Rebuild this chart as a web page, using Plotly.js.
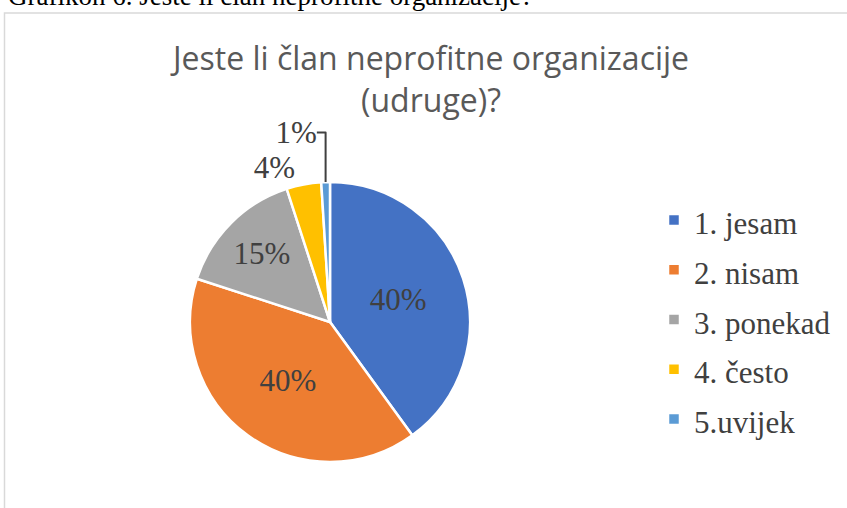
<!DOCTYPE html>
<html>
<head>
<meta charset="utf-8">
<script src="https://cdn.plot.ly/plotly-3.0.1.min.js"></script>
<style>html,body{margin:0;padding:0;background:#fff;}#chart{width:847px;height:508px;}</style>
</head>
<body>
<div id="chart"></div>
<script>
const categories = ["1. jesam", "2. nisam", "3. ponekad", "4. često", "5.uvijek"];
const shares = [40, 40, 15, 4, 1];
const colors = ["#4472C4", "#ED7D31", "#A5A5A5", "#FFC000", "#5B9BD5"];
const chartTitle = "Jeste li član neprofitne organizacije<br>(udruge)?";
const captionText = "Grafikon 6. Jeste li član neprofitne organizacije?";

const SERIF = "Liberation Serif";
const W = 847, H = 508;
const legendLabels = categories.map(c => '<span style="font-size:31px">' + c + '</span>');

const trace = {
  type: "pie",
  labels: legendLabels,
  values: shares,
  sort: false,
  direction: "clockwise",
  rotation: 0,
  marker: {colors: colors, line: {color: "#ffffff", width: 2.5}},
  texttemplate: "%{percent:.0%}",
  textposition: ["inside", "inside", "inside", "outside", "outside"],
  insidetextorientation: "horizontal",
  textfont: {family: SERIF, size: 31, color: "#404040"},
  outsidetextfont: {family: SERIF, size: 31, color: "#404040"},
  domain: {x: [190 / W, 470 / W], y: [1 - 462 / H, 1 - 182 / H]},
  hoverinfo: "none"
};

const layout = {
  width: W, height: H,
  margin: {l: 0, r: 0, t: 0, b: 0},
  paper_bgcolor: "#ffffff",
  showlegend: true,
  legend: {
    x: 654 / W, y: 1 - 190 / H, xanchor: "left", yanchor: "top",
    font: {family: SERIF, size: 36, color: "#404040"},
    itemwidth: 30
  },
  title: {
    text: chartTitle,
    font: {family: "Open Sans", size: 32, color: "#595959"},
    x: 431 / W, xanchor: "center", y: 1 - 70 / H, yanchor: "top"
  },
  shapes: [{
    type: "rect", xref: "paper", yref: "paper",
    x0: 4.5 / W, x1: 1.2, y0: -0.2, y1: 1 - 13 / H,
    line: {color: "#d9d9d9", width: 1.5}, fillcolor: "rgba(0,0,0,0)"
  }],
  annotations: [{
    text: captionText, xref: "paper", yref: "paper",
    x: 6 / W, y: 1 + 4 / H, xanchor: "left", yanchor: "middle",
    showarrow: false,
    font: {family: SERIF, size: 27, color: "#000000"}
  }]
};

Plotly.newPlot("chart", [trace], layout, {displayModeBar: false, staticPlot: true});
</script>
</body>
</html>
